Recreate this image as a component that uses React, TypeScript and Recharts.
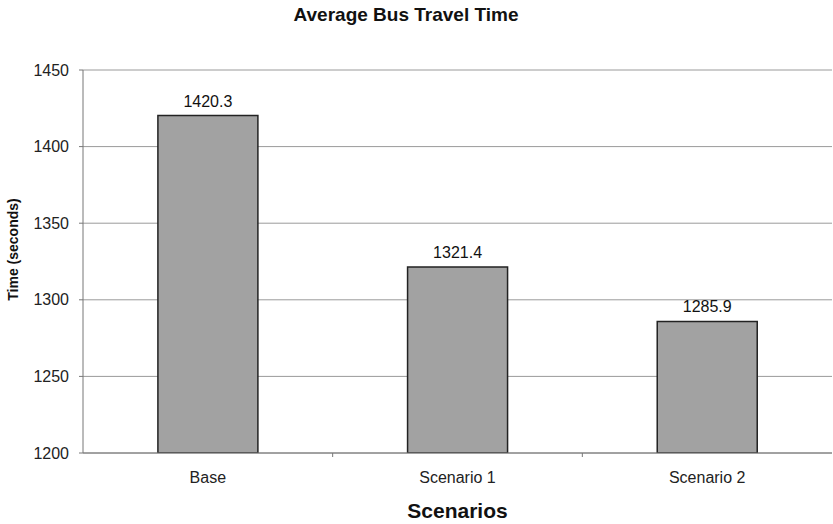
import { BarChart, Bar, XAxis, YAxis, CartesianGrid, LabelList, Label } from 'recharts'

const scenarios = ['Base', 'Scenario 1', 'Scenario 2']
const travelTimes = [1420.3, 1321.4, 1285.9]
const yTicks = [1200, 1250, 1300, 1350, 1400, 1450]

const data = scenarios.map((name, i) => ({ name, time: travelTimes[i] }))

const W = 833
const H = 524
const plotLeft = 83
const plotRight = 1
const band = (W - plotLeft - plotRight) / scenarios.length

const font = '"Liberation Sans", Arial, sans-serif'

function CatTick(props: any) {
  const { x, y, payload, index } = props
  return (
    <g>
      {index > 0 && (
        <line x1={x - band / 2} x2={x - band / 2} y1={y - 8} y2={y - 4} stroke="#777" />
      )}
      <text x={x} y={y + 22} textAnchor="middle" fontSize={16} fill="#222" fontFamily={font}>
        {payload.value}
      </text>
    </g>
  )
}

export default function App() {
  return (
    <div style={{ position: 'absolute', left: 0, top: 0, width: W, height: H, background: '#fff' }}>
      <BarChart
        width={W}
        height={H}
        data={data}
        margin={{ top: 70, right: plotRight, bottom: 0, left: 0 }}
        barCategoryGap="30%"
      >
        <text x={406} y={21} textAnchor="middle" fontSize={19} fontWeight="bold" fill="#111" fontFamily={font}>
          Average Bus Travel Time
        </text>
        <CartesianGrid vertical={false} stroke="#9a9a9a" />
        <XAxis
          dataKey="name"
          stroke="#777"
          tickLine={false}
          tick={<CatTick />}
          interval={0}
          height={71}
        >
          <Label
            value="Scenarios"
            position="insideBottom"
            offset={6}
            style={{ fontSize: 21, fontWeight: 'bold', fill: '#111', fontFamily: font }}
          />
        </XAxis>
        <YAxis
          width={plotLeft}
          domain={[1200, 1450]}
          ticks={yTicks}
          interval={0}
          stroke="#777"
          tickSize={4}
          tickMargin={10}
          tick={{ fontSize: 16, fill: '#222', fontFamily: font }}
          allowDataOverflow
        >
          <Label
            value="Time (seconds)"
            angle={-90}
            position="insideLeft"
            offset={13}
            dy={-12}
            style={{ textAnchor: 'middle', fontSize: 14, fontWeight: 'bold', fill: '#111', fontFamily: font }}
          />
        </YAxis>
        <Bar dataKey="time" fill="#a2a2a2" stroke="#222" strokeWidth={1.5} isAnimationActive={false}>
          <LabelList
            dataKey="time"
            position="top"
            offset={9}
            formatter={(v: any) => Number(v).toFixed(1)}
            style={{ fontSize: 16, fill: '#111', fontFamily: font }}
          />
        </Bar>
      </BarChart>
    </div>
  )
}
